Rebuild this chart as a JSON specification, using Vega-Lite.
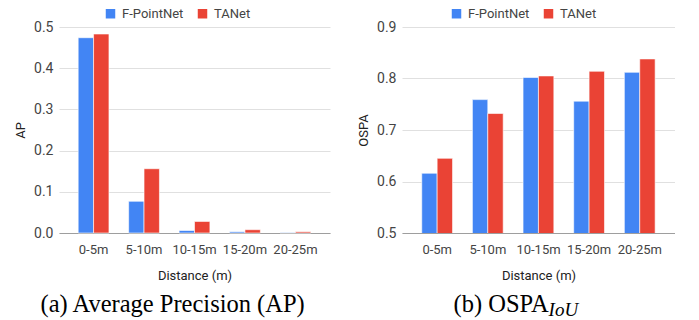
{
  "$schema": "https://vega.github.io/schema/vega-lite/v6.json",
  "padding": {"left": 14, "top": 7, "right": 0, "bottom": 0},
  "spacing": 27,
  "datasets": {
    "ap": [
      {"range": "0-5m", "model": "F-PointNet", "value": 0.474},
      {"range": "0-5m", "model": "TANet", "value": 0.483},
      {"range": "5-10m", "model": "F-PointNet", "value": 0.077},
      {"range": "5-10m", "model": "TANet", "value": 0.156},
      {"range": "10-15m", "model": "F-PointNet", "value": 0.006},
      {"range": "10-15m", "model": "TANet", "value": 0.028},
      {"range": "15-20m", "model": "F-PointNet", "value": 0.003},
      {"range": "15-20m", "model": "TANet", "value": 0.008},
      {"range": "20-25m", "model": "F-PointNet", "value": 0.001},
      {"range": "20-25m", "model": "TANet", "value": 0.003}
    ],
    "ospa": [
      {"range": "0-5m", "model": "F-PointNet", "value": 0.616},
      {"range": "0-5m", "model": "TANet", "value": 0.645},
      {"range": "5-10m", "model": "F-PointNet", "value": 0.759},
      {"range": "5-10m", "model": "TANet", "value": 0.732},
      {"range": "10-15m", "model": "F-PointNet", "value": 0.802},
      {"range": "10-15m", "model": "TANet", "value": 0.805},
      {"range": "15-20m", "model": "F-PointNet", "value": 0.756},
      {"range": "15-20m", "model": "TANet", "value": 0.814},
      {"range": "20-25m", "model": "F-PointNet", "value": 0.812},
      {"range": "20-25m", "model": "TANet", "value": 0.838}
    ]
  },
  "config": {
    "view": {"stroke": null},
    "font": "Roboto",
    "axis": {
      "labelFont": "Roboto",
      "titleFont": "Roboto",
      "labelColor": "#444444",
      "titleColor": "#222222",
      "titleFontWeight": "normal",
      "titleFontSize": 13,
      "ticks": false,
      "gridColor": "#e0e0e0",
      "domain": false
    },
    "axisX": {"labelFontSize": 13, "labelAngle": 0, "labelPadding": 10, "titlePadding": 13, "domain": true, "domainColor": "#9e9e9e", "grid": false},
    "axisY": {"labelFontSize": 14, "labelPadding": 6, "titlePadding": 6},
    "legend": {
      "orient": "none",
      "direction": "horizontal",
      "title": null,
      "symbolType": "square",
      "symbolSize": 90,
      "symbolStrokeWidth": 0,
      "labelFont": "Roboto",
      "labelFontSize": 13,
      "labelColor": "#444444",
      "labelOffset": 5,
      "columnPadding": 12
    },
    "title": {"font": "Liberation Serif", "fontSize": 24.5, "fontWeight": "normal", "color": "#000000", "subtitleFont": "Liberation Serif", "subtitleFontStyle": "italic", "subtitleFontSize": 19, "subtitleColor": "#000000"}
  },
  "resolve": {"scale": {"color": "independent"}, "legend": {"color": "independent"}},
  "hconcat": [
    {
      "width": 271,
      "height": 206,
      "data": {"name": "ap"},
      "title": {"text": "(a) Average Precision (AP)", "orient": "bottom", "anchor": "start", "frame": "bounds", "dx": 26, "offset": 11},
      "mark": {"type": "bar", "stroke": "white", "strokeWidth": 0.6},
      "encoding": {
        "x": {"field": "range", "type": "nominal", "sort": ["0-5m", "5-10m", "10-15m", "15-20m", "20-25m"], "scale": {"paddingInner": 0.39, "paddingOuter": 0.38}, "title": "Distance (m)"},
        "xOffset": {"field": "model", "type": "nominal", "sort": ["F-PointNet", "TANet"]},
        "y": {"field": "value", "type": "quantitative", "scale": {"domain": [0, 0.5]}, "axis": {"values": [0, 0.1, 0.2, 0.3, 0.4, 0.5], "format": ".1f"}, "title": "AP"},
        "color": {"field": "model", "type": "nominal", "scale": {"domain": ["F-PointNet", "TANet"], "range": ["#4285F4", "#EA4335"]}, "legend": {"legendX": 45, "legendY": -20}}
      }
    },
    {
      "width": 273,
      "height": 206,
      "data": {"name": "ospa"},
      "title": {"text": "(b) OSPA", "subtitle": "\u200b\u00a0\u00a0\u00a0\u00a0\u00a0\u00a0\u00a0\u00a0\u00a0\u00a0\u00a0\u00a0\u00a0\u00a0\u00a0\u00a0\u00a0\u00a0\u00a0\u00a0IoU", "subtitlePadding": -17, "orient": "bottom", "anchor": "start", "frame": "bounds", "dx": 96, "offset": 11},
      "mark": {"type": "bar", "stroke": "white", "strokeWidth": 0.6, "clip": true},
      "encoding": {
        "x": {"field": "range", "type": "nominal", "sort": ["0-5m", "5-10m", "10-15m", "15-20m", "20-25m"], "scale": {"paddingInner": 0.39, "paddingOuter": 0.39}, "title": "Distance (m)"},
        "xOffset": {"field": "model", "type": "nominal", "sort": ["F-PointNet", "TANet"]},
        "y": {"field": "value", "type": "quantitative", "scale": {"domain": [0.5, 0.9], "zero": false}, "axis": {"values": [0.5, 0.6, 0.7, 0.8, 0.9], "format": ".1f"}, "title": "OSPA"},
        "color": {"field": "model", "type": "nominal", "scale": {"domain": ["F-PointNet", "TANet"], "range": ["#4285F4", "#EA4335"]}, "legend": {"legendX": 48, "legendY": -20}}
      }
    }
  ]
}
